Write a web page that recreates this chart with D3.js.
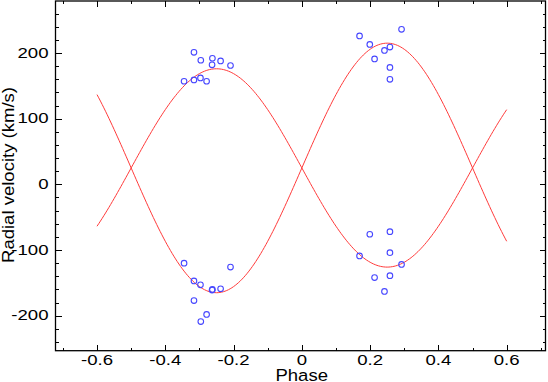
<!DOCTYPE html>
<html><head><meta charset="utf-8">
<script src="https://cdn.jsdelivr.net/npm/d3@7"></script>
<style>body{margin:0;background:#fff}svg{display:block}</style>
</head><body><svg id="c" width="548" height="382"></svg>
<script>
// Observed radial velocities, star 1 (fit: gamma + K1 sin)
const phase1 = [-0.316,-0.345,-0.316,-0.297,-0.279,-0.296,-0.262,-0.263,-0.238,-0.209,
                0.169,0.199,0.213,0.242,0.258,0.292,0.258,0.258];
const rv1    = [-147,-120,-177,-153,-198,-209,-160,-161,-159,-126,
                226,213,191,204,209,236,178,160];
// star 2 (fit: gamma - K2 sin)
const phase2 = [-0.316,-0.345,-0.316,-0.297,-0.279,-0.296,-0.262,-0.263,-0.238,-0.209,
                0.169,0.199,0.213,0.242,0.258,0.292,0.258,0.258];
const rv2    = [201,157,159,162,157,189,192,182,188,181,
                -109,-76,-142,-163,-104,-122,-139,-72];
// orbital solution
const gamma = 25, K1 = 190, K2 = 151;
const curvePhaseRange = [-0.6, 0.6];
const xTicks = [-0.6,-0.4,-0.2,0,0.2,0.4,0.6];
const yTicks = [-200,-100,0,100,200];

const svg = d3.select("#c");
const L=55.5, R=545.5, T=1, B=350.7;
const x = d3.scaleLinear().domain([-0.7216,0.7137]).range([L,R]);
const y = d3.scaleLinear().domain([-253.3,279.2]).range([B,T]);
const font = "'Liberation Sans', Arial, Helvetica, sans-serif";

// ticks (inside, all four sides)
const g = svg.append("g").attr("stroke","#000").attr("stroke-width",1).attr("shape-rendering","crispEdges");
const xMinor = d3.range(-7,8).map(d=>d/10);
const yMinor = d3.range(-240,281,20).filter(v=>y(v)>T+1);
xMinor.forEach(v=>{
  const major = xTicks.some(t=>Math.abs(t-v)<1e-9);
  const len = major?6:3;
  const px = Math.round(x(v))+0.5;
  g.append("line").attr("x1",px).attr("x2",px).attr("y1",B).attr("y2",B-len);
  g.append("line").attr("x1",px).attr("x2",px).attr("y1",T).attr("y2",T+len);
});
yMinor.forEach(v=>{
  const major = yTicks.includes(v);
  const len = major?6:3;
  const py = Math.round(y(v))+0.5;
  g.append("line").attr("x1",L).attr("x2",L+len).attr("y1",py).attr("y2",py);
  g.append("line").attr("x1",R).attr("x2",R-len).attr("y1",py).attr("y2",py);
});
svg.append("rect").attr("x",L).attr("y",T).attr("width",R-L).attr("height",B-T)
  .attr("fill","none").attr("stroke","#000").attr("stroke-width",1.3);

// tick labels (horizontally stretched Helvetica-like face)
const sx = 1.2;
svg.append("g").selectAll("text").data(xTicks).join("text")
  .attr("transform",d=>`translate(${x(d)},365) scale(${sx},1)`).attr("text-anchor","middle")
  .attr("font-family",font).attr("font-size",15.5)
  .text(d=>d===0?"0":d3.format(".1f")(d).replace("−","-"));
svg.append("g").selectAll("text").data(yTicks).join("text")
  .attr("transform",d=>`translate(48.5,${y(d)+4.8}) scale(${sx},1)`).attr("text-anchor","end")
  .attr("font-family",font).attr("font-size",15.5)
  .text(d=>String(d));

svg.append("text").attr("transform","translate(301.7,381) scale(1.09,1)").attr("text-anchor","middle")
  .attr("font-family",font).attr("font-size",17).text("Phase");
svg.append("text").attr("transform","translate(13.5,175) rotate(-90) scale(1.09,1)").attr("text-anchor","middle")
  .attr("font-family",font).attr("font-size",17).text("Radial velocity (km/s)");

// fitted curves
const ph = d3.range(0,241).map(i=>curvePhaseRange[0]+i*(curvePhaseRange[1]-curvePhaseRange[0])/240);
const line = d3.line().x(d=>x(d[0])).y(d=>y(d[1]));
svg.append("path").attr("d",line(ph.map(p=>[p,gamma+K1*Math.sin(2*Math.PI*p)])))
  .attr("fill","none").attr("stroke","#ff3b3b").attr("stroke-width",1);
svg.append("path").attr("d",line(ph.map(p=>[p,gamma-K2*Math.sin(2*Math.PI*p)])))
  .attr("fill","none").attr("stroke","#ff3b3b").attr("stroke-width",1);

// points
const pts = phase1.map((p,i)=>[p,rv1[i]]).concat(phase2.map((p,i)=>[p,rv2[i]]));
svg.append("g").selectAll("circle").data(pts).join("circle")
  .attr("cx",d=>x(d[0])).attr("cy",d=>y(d[1])).attr("r",2.8)
  .attr("fill","none").attr("stroke","#4646ff").attr("stroke-width",1.1);
</script></body></html>
